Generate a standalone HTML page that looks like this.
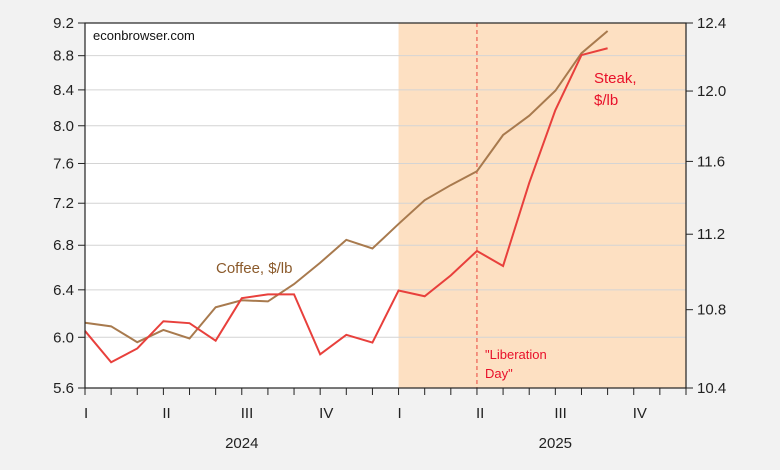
<!DOCTYPE html>
<html><head><meta charset="utf-8"><style>
body{margin:0;background:#f2f2f2;}
svg{display:block;font-family:"Liberation Sans",sans-serif;}
</style></head><body>
<svg id="c" width="780" height="470"></svg>
<script>
const months=["2024-01","2024-02","2024-03","2024-04","2024-05","2024-06","2024-07","2024-08","2024-09","2024-10","2024-11","2024-12","2025-01","2025-02","2025-03","2025-04","2025-05","2025-06","2025-07","2025-08","2025-09"];
const coffee=[6.12,6.09,5.96,6.06,5.99,6.25,6.31,6.30,6.45,6.64,6.85,6.77,7.00,7.23,7.38,7.52,7.90,8.11,8.39,8.83,9.10];
const steak=[10.69,10.53,10.60,10.74,10.73,10.64,10.86,10.88,10.88,10.57,10.67,10.63,10.90,10.87,10.98,11.11,11.03,11.48,11.89,12.21,12.25];
const leftTicks=[5.6,6.0,6.4,6.8,7.2,7.6,8.0,8.4,8.8,9.2];
const rightTicks=[10.4,10.8,11.2,11.6,12.0,12.4];
const quarterLabels=["I","II","III","IV","I","II","III","IV"];
const years=["2024","2025"];
const NS="http://www.w3.org/2000/svg";
const svg=document.getElementById('c');
const L=85,R=686,T=23,B=388,MW=26.13;
const xM=i=>L+i*MW;
const yL=v=>T+(Math.log(9.2)-Math.log(v))/(Math.log(9.2)-Math.log(5.6))*(B-T);
const yR=v=>T+(Math.log(12.4)-Math.log(v))/(Math.log(12.4)-Math.log(10.4))*(B-T);
function el(t,a,txt){const e=document.createElementNS(NS,t);for(const k in a)e.setAttribute(k,a[k]);if(txt!=null)e.textContent=txt;svg.appendChild(e);return e;}
let e;
e=el('rect',{x:L,y:T,width:R-L,height:B-T,fill:'#fff'});


e=el('rect',{x:xM(12),y:T,width:R-xM(12),height:B-T,fill:'#fde0c2'});


leftTicks.forEach(v=>{const y=yL(v);
 if(v>5.6&&v<9.2){e=el('line',{x1:L,x2:R,y1:y,y2:y,stroke:'#d4d4d4','stroke-width':1});
 
 }
 el('line',{x1:L-7,x2:L,y1:y,y2:y,stroke:'#222'});
 e=el('text',{x:L-11,y:y+5,'text-anchor':'end','font-size':15,fill:'#222'},v.toFixed(1));
 
 
});
rightTicks.forEach(v=>{const y=yR(v);
 el('line',{x1:R,x2:R+7,y1:y,y2:y,stroke:'#222'});
 e=el('text',{x:R+11,y:y+5,'font-size':15,fill:'#222'},v.toFixed(1));
 
 
});
for(let i=0;i<=23;i++){const x=xM(i);if(x>R+1)break;el('line',{x1:x,x2:x,y1:B,y2:B+7,stroke:'#222'});}
quarterLabels.forEach((q,i)=>{e=el('text',{x:xM(i*3)-1,y:418,'font-size':15,fill:'#222'},q);
 
 });
years.forEach((yr,i)=>{e=el('text',{x:xM(i*12+6),y:448,'text-anchor':'middle','font-size':15,fill:'#222'},yr);
 
 });
e=el('line',{x1:xM(15),x2:xM(15),y1:T,y2:B,stroke:'#e8453c','stroke-dasharray':'4,3','stroke-width':1});


e=el('polyline',{points:coffee.map((v,i)=>xM(i)+','+yL(v)).join(' '),fill:'none',stroke:'#a87a4e','stroke-width':2});


e=el('polyline',{points:steak.map((v,i)=>xM(i)+','+yR(v)).join(' '),fill:'none',stroke:'#e8403c','stroke-width':2});


e=el('rect',{x:L,y:T,width:R-L,height:B-T,fill:'none',stroke:'#222','stroke-width':1.2});


e=el('text',{x:93,y:40,'font-size':13,fill:'#111'},'econbrowser.com');


e=el('text',{x:216,y:273,'font-size':15,fill:'#8b5a2b'},'Coffee, $/lb');


e=el('text',{x:594,y:83,'font-size':15,fill:'#e8102a'},'Steak,');


e=el('text',{x:594,y:105,'font-size':15,fill:'#e8102a'},'$/lb');


e=el('text',{x:485,y:359,'font-size':13,fill:'#e8102a'},'"Liberation');


e=el('text',{x:485,y:378,'font-size':13,fill:'#e8102a'},'Day"');


</script>
</body></html>
